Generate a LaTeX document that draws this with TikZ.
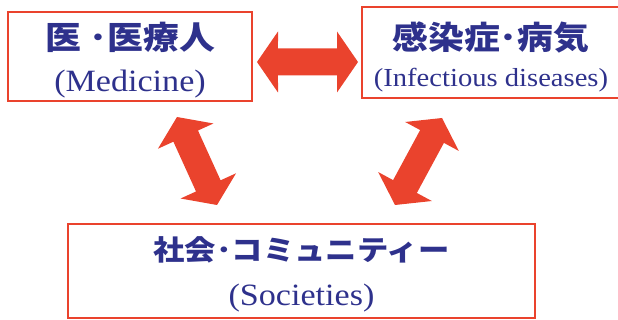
\documentclass[tikz,border=0pt]{standalone}
\usepackage{fontspec}
\setmainfont[FakeStretch=1.1]{Liberation Serif}
\newfontfamily\jp[FakeStretch=1.12]{Noto Sans CJK JP}
\usetikzlibrary{calc}
\definecolor{ared}{RGB}{234,67,45}
\definecolor{navy}{RGB}{46,49,140}
\tikzset{
  box/.style={draw=ared, line width=2.6pt, inner sep=0pt},
  jptext/.style={text=navy, font=\jp\bfseries\fontsize{32}{32}\selectfont, inner sep=0pt},
  entext/.style={text=navy, font=\fontsize{31}{31}\selectfont, inner sep=0pt},
  fat/.style={fill=ared},
}
\newcommand\fatarrow[2]{%
  \fill[fat] let \p1=(#1), \p2=(#2), \n1={atan2(\y2-\y1,\x2-\x1)}, \n2={\n1+180} in
  (\p1) -- ($(\p1)+(\n1+55.45:37.03pt)$) -- ($(\p1)+(\n1+32.74:24.96pt)$)
  -- ($(\p2)+(\n2-32.74:24.96pt)$) -- ($(\p2)+(\n2-55.45:37.03pt)$) -- (\p2)
  -- ($(\p2)+(\n2+55.45:37.03pt)$) -- ($(\p2)+(\n2+32.74:24.96pt)$)
  -- ($(\p1)+(\n1-32.74:24.96pt)$) -- ($(\p1)+(\n1-55.45:37.03pt)$) -- cycle;}
\begin{document}
\begin{tikzpicture}[x=1pt,y=-1pt]
\useasboundingbox (0,0) rectangle (618,320);
\clip (0,0) rectangle (618,320);
% boxes
\node[box, minimum width=244pt, minimum height=89pt] (med) at (130,56.5) {};
\node[box, minimum width=266pt, minimum height=91pt] (inf) at (495,52.5) {};
\node[box, minimum width=467pt, minimum height=94pt] (soc) at (301.5,271) {};
% texts
\node[jptext] (medjp) at (130.5,37.5) {医 ･医療人};
\node[entext] (meden) at (130,84) {(Medicine)};
\node[jptext] (infjp) at (491,37.5) {感染症･病気};
\node[entext, font=\fontsize{26}{26}\selectfont] (infen) at (491,80) {(Infectious diseases)};
\node[jptext, font=\jp\bfseries\fontsize{28}{28}\selectfont] (socjp) at (301.5,250) {社会･コミュニティー};
\node[entext] (socen) at (301.5,298) {(Societies)};
% arrow ends
\coordinate (h1) at (257,62);
\coordinate (h2) at (358,62);
\coordinate (l1) at (177,117);
\coordinate (l2) at (217,205);
\coordinate (r1) at (442,118);
\coordinate (r2) at (395,205);
\fatarrow{h1}{h2}
\fatarrow{l1}{l2}
\fatarrow{r1}{r2}
\end{tikzpicture}
\end{document}
